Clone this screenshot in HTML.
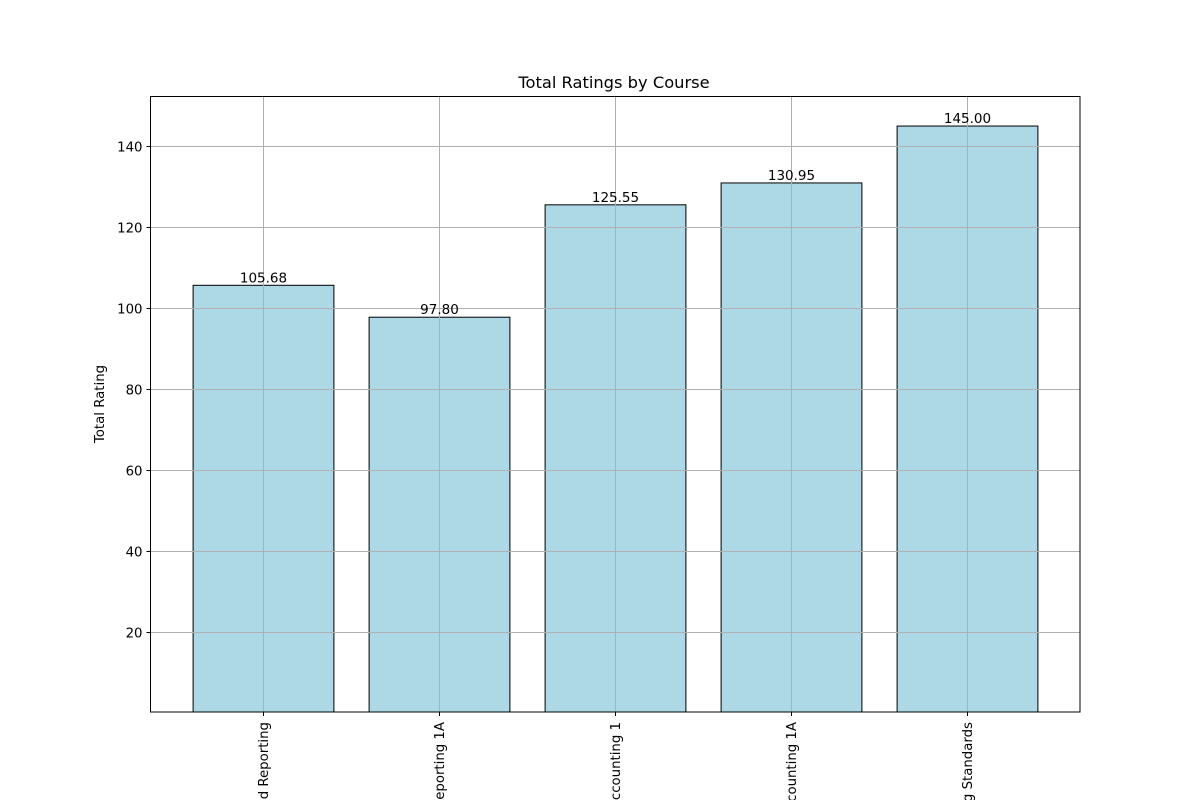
<!DOCTYPE html>
<html><head><meta charset="utf-8"><style>
html,body{margin:0;background:#fff;width:1200px;height:800px;overflow:hidden}
svg{display:block;font-family:"DejaVu Sans","Liberation Sans",sans-serif}
</style></head><body>
<svg id="chart" width="1200" height="800" overflow="hidden" xmlns="http://www.w3.org/2000/svg">
<defs><clipPath id="frame"><rect x="0" y="0" width="1200" height="800"/></clipPath></defs>
<rect x="0" y="0" width="1200" height="800" fill="#fff"/>
<text x="614" y="88" text-anchor="middle" font-size="16.3">Total Ratings by Course</text>
<text transform="translate(104,404) rotate(-90)" text-anchor="middle" font-size="13.3">Total Rating</text>
<g id="bars"></g><g id="grid"></g><g id="labels"></g><g id="ticks" clip-path="url(#frame)"></g>
<rect x="150.5" y="96.5" width="929.5" height="615.5" fill="none" stroke="#000" stroke-width="1"/>
</svg>
<script>
const categories=["Financial Accounting and Reporting","Financial Reporting 1A","Management Accounting 1","Management Accounting 1A","International Accounting Standards"];
const values=[105.68,97.80,125.55,130.95,145.00];
const yTicks=[20,40,60,80,100,120,140];
const NS="http://www.w3.org/2000/svg";
const L=150.5,R=1080,T=96.5,B=712;
const yScale=v=>713.3-v*4.05;
const band=176;
const xCenter=i=>263.5+band*i;
const bw=band*0.8;
function mk(tag,attrs,parent,text){const e=document.createElementNS(NS,tag);for(const k in attrs)e.setAttribute(k,attrs[k]);if(text!==undefined)e.textContent=text;document.getElementById(parent).appendChild(e);return e;}
values.forEach((v,i)=>{
 const e=mk('rect',{x:xCenter(i)-bw/2,y:yScale(v),width:bw,height:B-yScale(v),fill:'#add8e6',stroke:'#000','stroke-width':1},'bars');
 
 
 const t=mk('text',{x:xCenter(i),y:yScale(v)-3,'text-anchor':'middle','font-size':13.5},'labels',v.toFixed(2));
 
 
 const g=mk('line',{x1:xCenter(i),x2:xCenter(i),y1:T,y2:B,stroke:'#b0b0b0','stroke-width':1},'grid');
 
 
 const tk=mk('line',{x1:xCenter(i),x2:xCenter(i),y1:B,y2:B+4,stroke:'#000'},'ticks');
 
 
 const xl=mk('text',{transform:`translate(${xCenter(i)+4.5},${B+10}) rotate(-90)`,'text-anchor':'end','font-size':13.3},'ticks',categories[i]);
 
 
});
yTicks.forEach(v=>{
 const y=Math.round(yScale(v))+0.5;
 const g=mk('line',{x1:L,x2:R,y1:y,y2:y,stroke:'#b0b0b0','stroke-width':1},'grid');
 
 
 const tk=mk('line',{x1:L-4,x2:L,y1:y,y2:y,stroke:'#000'},'ticks');
 
 
 const t=mk('text',{x:L-8,y:y+4.8,'text-anchor':'end','font-size':13.3},'ticks',String(v));
 
 
});
</script>
</body></html>
